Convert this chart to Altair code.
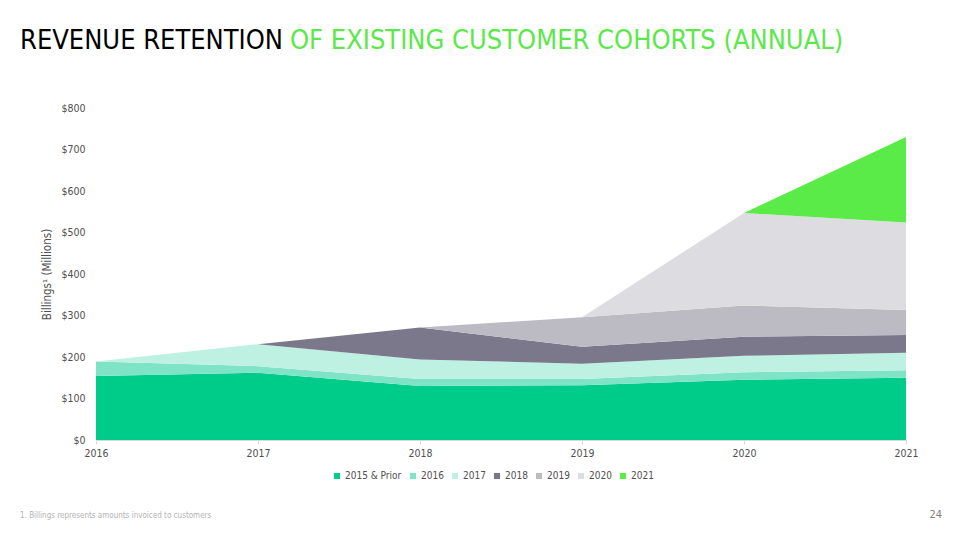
import altair as alt
import pandas as pd

years = [2016, 2017, 2018, 2019, 2020, 2021]
cohorts = ["2015 & Prior", "2016", "2017", "2018", "2019", "2020", "2021"]
colors = ["#00CC8A", "#7FE4C5", "#BEF1E2", "#7A788A", "#BCBBC4", "#DDDCE0", "#5BEB48"]

# billings per cohort per year ($M); None = cohort not yet acquired
v_2015_prior = [154, 162, 130, 132, 145, 150]
v_2016 = [35, 16, 17, 15, 18, 18]
v_2017 = [0, 53, 47, 37, 40, 42]
v_2018 = [None, 0, 77, 41, 46, 43]
v_2019 = [None, None, 0, 71, 75, 60]
v_2020 = [None, None, None, 0, 223, 211]
v_2021 = [None, None, None, None, 0, 206]

y_ticks = [0, 100, 200, 300, 400, 500, 600, 700, 800]

title_black = "REVENUE RETENTION"
title_green = "OF EXISTING CUSTOMER COHORTS (ANNUAL)"
footnote = "1. Billings represents amounts invoiced to customers"
page_no = "24"

series = [v_2015_prior, v_2016, v_2017, v_2018, v_2019, v_2020, v_2021]
rows = []
for i, (c, vals) in enumerate(zip(cohorts, series)):
    for yr, v in zip(years, vals):
        rows.append({"year": yr, "cohort": c, "idx": i, "value": 0 if v is None else v})
df = pd.DataFrame(rows)

FONT = "DejaVu Sans Condensed, Liberation Sans, sans-serif"
GREY = "#505050"

area = alt.Chart(df).mark_area(interpolate="linear").encode(
    x=alt.X("year:Q", scale=alt.Scale(domain=[2016, 2021], nice=False, zero=False),
            axis=alt.Axis(values=years, format="d", title=None, grid=False,
                          domainColor="#D9D9D9", tickColor="#D9D9D9", tickSize=4,
                          labelColor=GREY, labelFont=FONT, labelFontSize=10.5,
                          labelPadding=4, labelFlush=False)),
    y=alt.Y("value:Q", stack="zero", scale=alt.Scale(domain=[0, 800], nice=False),
            axis=alt.Axis(values=y_ticks, labelExpr="'$' + datum.value", grid=False,
                          domain=False, ticks=False, labelPadding=11,
                          labelColor=GREY, labelFont=FONT, labelFontSize=10.5,
                          title="Billings¹ (Millions)", titleFont=FONT, titleFontSize=11.5,
                          titleFontWeight="normal", titleColor=GREY, titlePadding=8)),
    color=alt.Color("cohort:N", scale=alt.Scale(domain=cohorts, range=colors),
                    legend=alt.Legend(orient="none", legendX=236, legendY=363,
                                      direction="horizontal", title=None,
                                      symbolType="square", symbolSize=38,
                                      symbolStrokeWidth=0, labelFont=FONT,
                                      labelFontSize=10, labelColor=GREY,
                                      columnPadding=6, labelOffset=3)),
    order=alt.Order("idx:Q", sort="ascending"),
)

t1 = alt.Chart(pd.DataFrame({"t": [title_black]})).mark_text(
    align="left", baseline="alphabetic", font=FONT, fontSize=27, color="#000000"
).encode(x=alt.value(-76), y=alt.value(-59), text="t:N")

t2 = alt.Chart(pd.DataFrame({"t": [title_green]})).mark_text(
    align="left", baseline="alphabetic", font=FONT, fontSize=27, color="#5BE84A"
).encode(x=alt.value(194), y=alt.value(-59), text="t:N")

fn = alt.Chart(pd.DataFrame({"t": [footnote]})).mark_text(
    align="left", baseline="middle", font=FONT, fontSize=8, color="#B3B3B3"
).encode(x=alt.value(-76), y=alt.value(408), text="t:N")

pg = alt.Chart(pd.DataFrame({"t": [page_no]})).mark_text(
    align="right", baseline="middle", font=FONT, fontSize=11, color="#7F7F7F"
).encode(x=alt.value(846), y=alt.value(407), text="t:N")

chart = alt.layer(area, t1, t2, fn, pg).properties(
    width=810, height=332,
    autosize=alt.AutoSizeParams(type="none"),
    padding={"left": 88, "top": 100, "right": 46, "bottom": 90},
).configure_view(stroke=None)

chart.save("out.html", embed_options={"renderer": "svg", "actions": False})
